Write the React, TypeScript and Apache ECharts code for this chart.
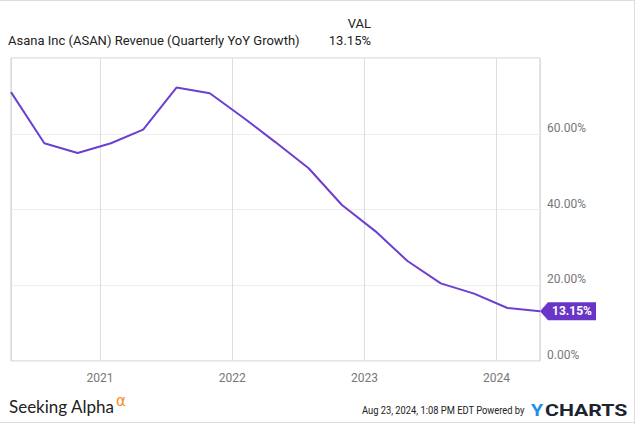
import React, { useEffect, useRef } from "react";
import * as echarts from "echarts";

const dates = [
  "2020-04-30", "2020-07-31", "2020-10-31", "2021-01-31", "2021-04-30",
  "2021-07-31", "2021-10-31", "2022-01-31", "2022-04-30", "2022-07-31",
  "2022-10-31", "2023-01-31", "2023-04-30", "2023-07-31", "2023-10-31",
  "2024-01-31", "2024-04-30",
];
const growth = [
  71.0, 57.5, 54.9, 57.5, 61.1, 72.2, 70.7, 64.3, 57.8, 50.9, 41.2, 34.3,
  26.4, 20.5, 17.8, 14.0, 13.15,
];
const titleText = "Asana Inc (ASAN) Revenue (Quarterly YoY Growth)";
const headerLabel = "VAL";
const footerDate = "Aug 23, 2024, 1:08 PM EDT Powered by";

const LINE = "#6c3fd1";
const TAG = "#6935c6";
const YEAR = 365 * 24 * 3600 * 1000;

export default function App() {
  const ref = useRef<HTMLDivElement>(null);
  useEffect(() => {
    if (!ref.current) return;
    const chart = echarts.init(ref.current, undefined, { renderer: "svg" });
    const last = growth.length - 1;
    const fmt = (v: number) => v.toFixed(2) + "%";
    chart.setOption({
      animation: false,
      backgroundColor: "#fff",
      textStyle: { fontFamily: "Roboto" },
      grid: {
        left: 11, top: 58, width: 529, height: 303,
        show: true, borderColor: "#ccc", borderWidth: 1,
      },
      xAxis: {
        type: "time",
        min: dates[0],
        max: dates[last],
        minInterval: YEAR,
        maxInterval: YEAR,
        axisLine: { show: false },
        axisTick: { show: false },
        splitLine: { show: true, lineStyle: { color: "#ddd", width: 1 } },
        axisLabel: {
          formatter: "{yyyy}",
          color: "#777",
          fontSize: 12,
          fontFamily: "Roboto",
          margin: 11,
          showMinLabel: false,
          showMaxLabel: false,
        },
      },
      yAxis: {
        type: "value",
        position: "right",
        min: 0,
        max: 80,
        interval: 20,
        axisLine: { show: false },
        axisTick: { show: false },
        splitLine: { lineStyle: { color: "#eee", width: 1 } },
        axisLabel: {
          formatter: (v: number) => fmt(v),
          showMaxLabel: false,
          color: "#777",
          fontSize: 12,
          fontFamily: "Roboto",
          margin: 7,
          verticalAlign: "bottom",
        },
      },
      series: [
        {
          type: "line",
          data: dates.map((d, i) => [d, growth[i]]),
          showSymbol: false,
          lineStyle: { color: LINE, width: 2 },
          itemStyle: { color: LINE },
          markPoint: {
            silent: true,
            symbol: "path://M0,9L8,0L56,0L56,18L8,18Z",
            symbolSize: [56, 18],
            symbolOffset: [28, 0],
            symbolKeepAspect: false,
            itemStyle: { color: TAG },
            label: {
              show: true,
              position: "inside",
              offset: [4, 0],
              color: "#fff",
              fontWeight: "bold",
              fontSize: 12,
              fontFamily: "Roboto",
              formatter: (p: any) => fmt(p.value),
            },
            data: [{ coord: [dates[last], growth[last]], value: growth[last] }],
          },
        },
      ],
      graphic: [
        { type: "line", shape: { x1: 0, y1: 0.5, x2: 635, y2: 0.5 }, style: { stroke: "#ddd", lineWidth: 1 } },
        { type: "line", shape: { x1: 634.5, y1: 0, x2: 634.5, y2: 424 }, style: { stroke: "#ddd", lineWidth: 1 } },
        { type: "line", shape: { x1: 0, y1: 422.5, x2: 635, y2: 422.5 }, style: { stroke: "#ddd", lineWidth: 1 } },
        {
          type: "text", x: 8, y: 40,
          style: { text: titleText, font: "13px Roboto", fill: "#222", verticalAlign: "middle" },
        },
        {
          type: "text", x: 371, y: 23,
          style: { text: headerLabel, font: "13px Roboto", fill: "#222", align: "right", verticalAlign: "middle" },
        },
        {
          type: "text", x: 371, y: 40,
          style: { text: fmt(growth[last]), font: "13px Roboto", fill: "#222", align: "right", verticalAlign: "middle" },
        },
        {
          type: "text", x: 9, y: 406,
          style: { text: "Seeking Alpha", font: "17px Lato", fill: "#222", verticalAlign: "middle" },
        },
        {
          type: "text", x: 116, y: 401,
          style: { text: "α", font: "15px 'DejaVu Sans'", fill: "#f68b1f", verticalAlign: "middle" },
        },
        {
          type: "text", x: 362, y: 410.5, scaleX: 0.85,
          style: { text: footerDate, font: "11px Roboto", fill: "#222", verticalAlign: "middle" },
        },
        {
          type: "text", x: 531, y: 410, scaleX: 1.15,
          style: { text: "Y", font: "bold 17px Roboto", fill: "#1e90e8", verticalAlign: "middle" },
        },
        {
          type: "text", x: 545, y: 410, scaleX: 1.25,
          style: { text: "CHARTS", font: "bold 17px Roboto", fill: "#1c2431", verticalAlign: "middle" },
        },
      ],
    });
    return () => chart.dispose();
  }, []);
  return (
    <div
      ref={ref}
      style={{ position: "fixed", left: 0, top: 0, width: 635, height: 424 }}
    />
  );
}
